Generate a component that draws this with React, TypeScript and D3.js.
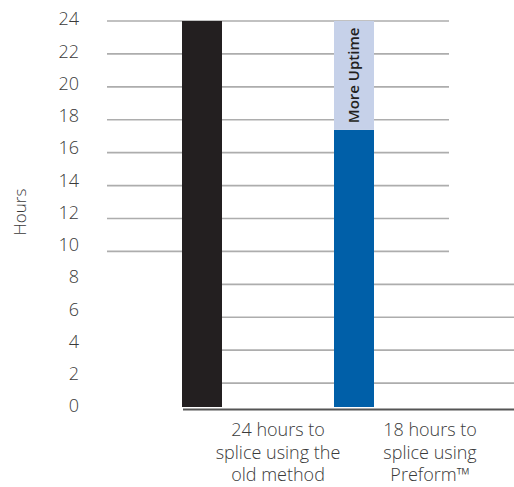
import React from "react";
import * as d3 from "d3";

const categories = ["24 hours to splice using the old method", "18 hours to splice using Preform™"];
const categoryLines = [
  ["24 hours to", "splice using the", "old method"],
  ["18 hours to", "splice using", "Preform™"],
];
const hoursValues = [24, 17.25];
const uptimeValues = [0, 6.75];
const yTicks = [0, 2, 4, 6, 8, 10, 12, 14, 16, 18, 20, 22, 24];
const upperGridTicks = [10, 12, 14, 16, 18, 20, 22, 24];
const lowerGridTicks = [2, 4, 6, 8];

const W = 514;
const H = 487;
const FONT = "'Open Sans', sans-serif";

export default function App() {
  const x = d3.scaleBand<string>().domain(categories).range([126, 430]).padding(0);
  const y = d3.scaleLinear().domain([0, 24]).range([408, 21]);
  const yGrid = d3.scaleLinear().domain([0, 24]).range([416, 21]);
  const barW = 40;
  const step = x.step();

  return (
    <svg width={W} height={H} style={{ position: "absolute", left: 0, top: 0 }}>
      <rect width={W} height={H} fill="#fff" />
      {upperGridTicks.map((t) => (
        <line key={"u" + t} x1={107} x2={449} y1={yGrid(t)} y2={yGrid(t)} stroke="#adadad" strokeWidth={1.6} />
      ))}
      {lowerGridTicks.map((t) => (
        <line key={"l" + t} x1={183} x2={W} y1={yGrid(t)} y2={yGrid(t)} stroke="#adadad" strokeWidth={1.6} />
      ))}
      {categories.map((c, i) => {
        const cx = (x(c) as number) + x.bandwidth() / 2;
        const total = hoursValues[i] + uptimeValues[i];
        return (
          <g key={c}>
            <rect x={cx - barW / 2} y={y(hoursValues[i])} width={barW} height={y(0) - y(hoursValues[i]) - 1}
              fill={i === 0 ? "#231f20" : "#005fa8"} />
            {uptimeValues[i] > 0 && (
              <g>
                <rect x={cx - barW / 2} y={y(total)} width={barW} height={y(hoursValues[i]) - y(total)} fill="#c6d1e9" />
                <text transform={`translate(${cx + 5},${(y(total) + y(hoursValues[i])) / 2}) rotate(-90)`}
                  textAnchor="middle" fontFamily="'Open Sans', sans-serif" fontWeight={600} fontSize={15} fill="#231f20">
                  More Uptime
                </text>
              </g>
            )}
          </g>
        );
      })}
      <line x1={183} x2={W} y1={409.5} y2={409.5} stroke="#555" strokeWidth={1.8} />
      {yTicks.map((t) => (
        <text key={t} x={79} y={y(t) - 2} dy="0.35em" textAnchor="end" fontFamily={FONT} fontWeight={300}
          fontSize={18} fill="#3a3a3a">
          {t}
        </text>
      ))}
      <text transform={`translate(26,212) rotate(-90)`} textAnchor="middle" fontFamily={FONT} fontWeight={300}
        fontSize={17} fill="#3a3a3a">
        Hours
      </text>
      {categories.map((c, i) => {
        const lx = (x(c) as number) + x.bandwidth() / 2 + step / 2;
        return (
          <text key={c} textAnchor="middle" fontFamily={FONT} fontWeight={300} fontSize={18} fill="#3a3a3a">
            {categoryLines[i].map((ln, j) => (
              <tspan key={j} x={lx} y={436 + j * 22.5}>{ln}</tspan>
            ))}
          </text>
        );
      })}
    </svg>
  );
}
